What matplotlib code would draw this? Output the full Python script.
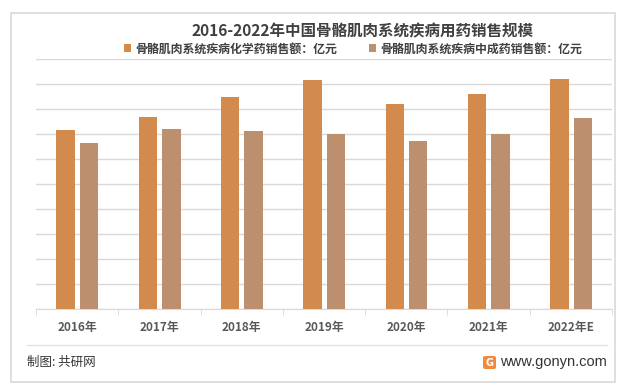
import matplotlib
matplotlib.use('Agg')
import matplotlib.pyplot as plt
from matplotlib.patches import Rectangle, FancyBboxPatch
from matplotlib.lines import Line2D
import numpy as np

plt.rcParams['font.family'] = ['Noto Sans CJK SC', 'DejaVu Sans']
plt.rcParams['axes.unicode_minus'] = False

# 数据（单位：亿元，按图估读）
years = ['2016年', '2017年', '2018年', '2019年', '2020年', '2021年', '2022年E']
chem_sales = [716, 768, 848, 916, 820, 860, 920]
tcm_sales = [664, 720, 712, 700, 672, 700, 764]
chem_label = '骨骼肌肉系统疾病化学药销售额：亿元'
tcm_label = '骨骼肌肉系统疾病中成药销售额：亿元'

chem_color = '#D38B4D'
tcm_color = '#BC8F6E'
grid_color = '#D9D9D9'

fig = plt.figure(figsize=(6.24, 3.91), dpi=100)
ax = fig.add_axes([36 / 624, 1 - 309 / 391, 576 / 624, 250 / 391])

x = np.arange(len(years))
w = 0.225
b1 = ax.bar(x - 0.14, chem_sales, w, color=chem_color, zorder=3, label=chem_label)
b2 = ax.bar(x + 0.145, tcm_sales, w, color=tcm_color, zorder=3, label=tcm_label)

ax.set_xlim(-0.5, len(years) - 0.5)
ax.set_ylim(0, 1000)
ax.set_yticks(np.arange(0, 1001, 100))
ax.yaxis.grid(True, color=grid_color, lw=1, zorder=0)
ax.tick_params(axis='y', length=0, labelleft=False)

# x轴：刻度标签在中间，刻度线在分类边界
ax.set_xticks(x)
ax.set_xticklabels(years, fontsize=8.5, fontweight='bold', color='#595959')
ax.set_xticks(np.arange(-0.5, len(years), 1), minor=True)
ax.tick_params(axis='x', which='major', length=0, pad=9)
ax.tick_params(axis='x', which='minor', length=4, color=grid_color)

for s in ['top', 'right', 'left']:
    ax.spines[s].set_visible(False)
ax.spines['bottom'].set_color(grid_color)

# 标题和图例
fig.text(363 / 624, 1 - 31 / 391, '2016-2022年中国骨骼肌肉系统疾病用药销售规模',
         ha='center', va='center', fontsize=11.2, fontweight='bold', color='#404040')
fig.legend(handles=[b1, b2], loc='center', bbox_to_anchor=(353 / 624, 1 - 49 / 391),
           ncol=2, frameon=False, handlelength=0.6, handleheight=0.6,
           handletextpad=0.4, columnspacing=2.6, labelcolor='#404040',
           prop={'weight': 'bold', 'size': 8.6})

# 外框和底部分隔线
fig.patches.append(Rectangle((11 / 624, 1 - 382 / 391), 604 / 624, 369 / 391,
                             transform=fig.transFigure, fill=False,
                             edgecolor=grid_color, lw=1.2))
fig.lines.append(Line2D([27 / 624, 607 / 624], [1 - 345 / 391, 1 - 345 / 391],
                        transform=fig.transFigure, color='#E3E3E3', lw=1))

# 底部来源
fig.text(27 / 624, 1 - 362 / 391, '制图: 共研网', ha='left', va='center',
         fontsize=9, color='#333333')
fig.text(607 / 624, 1 - 362 / 391, 'www.gonyn.com', ha='right', va='center',
         fontsize=10.5, color='#333333', family=['Liberation Sans'])
fig.patches.append(FancyBboxPatch((483 / 624, 1 - 369 / 391), 13 / 624, 13 / 391,
                                  boxstyle='round,pad=0,rounding_size=0.004',
                                  transform=fig.transFigure, color='#F08A3C', lw=0))
fig.text(489.5 / 624, 1 - 362.5 / 391, 'G', ha='center', va='center',
         fontsize=7, fontweight='bold', color='white', family=['DejaVu Sans'])

plt.savefig('out.png', dpi=100)
